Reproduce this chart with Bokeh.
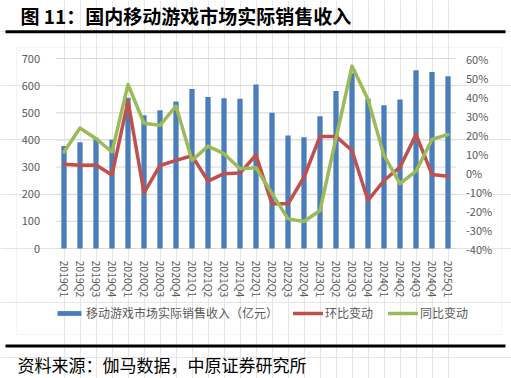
from bokeh.plotting import figure
from bokeh.models import (FactorRange, Range1d, LinearAxis, CategoricalAxis, FixedTicker,
                          PrintfTickFormatter, Legend, LegendItem, Label, BoxAnnotation)
from bokeh.embed import file_html
from bokeh.resources import INLINE

quarters = ["2019Q1", "2019Q2", "2019Q3", "2019Q4", "2020Q1", "2020Q2", "2020Q3", "2020Q4",
            "2021Q1", "2021Q2", "2021Q3", "2021Q4", "2022Q1", "2022Q2", "2022Q3", "2022Q4",
            "2023Q1", "2023Q2", "2023Q3", "2023Q4", "2024Q1", "2024Q2", "2024Q3", "2024Q4", "2025Q1"]
revenue = [378, 391, 408, 401, 555, 491, 509, 542, 588, 558, 554, 552, 604, 500, 416, 410,
           487, 580, 646, 552, 528, 549, 657, 650, 635]
qoq = [4.3, 3.8, 4.0, -1.3, 37.6, -10.7, 3.7, 6.4, 8.8, -4.5, -0.6, -0.3, 9.2, -16.5, -16.5, -2.5,
       19.0, 19.0, 11.6, -14.7, -4.2, 2.8, 20.0, -1.0, -2.0]
yoy = [10.8, 23.4, 17.8, 10.8, 46.3, 25.9, 24.8, 35.0, 6.4, 13.9, 9.9, 2.0, 2.5, -11.0, -24.4, -25.8,
       -20.0, 18.0, 56.0, 38.4, 9.0, -5.9, 0.7, 17.4, 20.0]
left_ticks = [0, 100, 200, 300, 400, 500, 600, 700]
right_ticks = [-40, -30, -20, -10, 0, 10, 20, 30, 40, 50, 60]

title_text = "图 11：国内移动游戏市场实际销售收入"
source_text = "资料来源：伽马数据，中原证券研究所"
label_bar = "移动游戏市场实际销售收入（亿元）"
label_qoq = "环比变动"
label_yoy = "同比变动"

FONT = "Noto Sans CJK SC"
GREY = "#595959"
GRID = "#d9d9d9"

# ---- layout (canvas pixels) ----
W, H = 511, 378
PX_L, PX_R = 55, 455      # plot area left/right
PX_T, PX_B = 58, 248      # plot area top/bottom
n = len(quarters)
unit = (PX_R - PX_L) / n
pad = (W / unit - n) / 2

ymin, ymax = left_ticks[0], left_ticks[-1]
k = (PX_B - PX_T) / (ymax - ymin)
y_lo = ymin - (H - PX_B) / k
y_hi = ymax + PX_T / k
pmin, pmax = right_ticks[0], right_ticks[-1]
kp = (PX_B - PX_T) / (pmax - pmin)
p_lo = pmin - (H - PX_B) / kp
p_hi = pmax + PX_T / kp

p = figure(width=W, height=H,
           x_range=FactorRange(*quarters, range_padding=pad, range_padding_units="absolute"),
           y_range=Range1d(y_lo, y_hi), x_axis_location=None, y_axis_location=None,
           output_backend="svg", toolbar_location=None, min_border=0)
p.outline_line_color = None
p.background_fill_color = "white"
p.border_fill_color = "white"
p.extra_y_ranges = {"pct": Range1d(p_lo, p_hi)}

# gridlines (plot area only)
p.segment(x0=[0] * len(left_ticks), x1=[n] * len(left_ticks), y0=left_ticks, y1=left_ticks,
          line_color=GRID, line_width=1)

bars = p.vbar(x=quarters, top=revenue, width=0.33, fill_color="#4a7ebb", line_color=None)
r_qoq = p.line(x=quarters, y=qoq, y_range_name="pct", line_color="#c0504d", line_width=3.5,
               line_join="round", line_cap="round")
r_yoy = p.line(x=quarters, y=yoy, y_range_name="pct", line_color="#9bbb59", line_width=3.5,
               line_join="round", line_cap="round")

# axes placed at the plot-area edges
xa = CategoricalAxis(fixed_location=0)
xa.major_label_orientation = "vertical"
xa.major_tick_line_color = None
xa.minor_tick_line_color = None
xa.axis_line_color = None
xa.major_label_standoff = 6
xa.major_label_text_font = FONT
xa.major_label_text_font_size = "10.5px"
xa.major_label_text_color = GREY
p.add_layout(xa, "below")

ya = LinearAxis(fixed_location=0, ticker=FixedTicker(ticks=left_ticks))
ya.axis_line_color = None
ya.major_tick_line_color = None
ya.minor_tick_line_color = None
ya.major_label_standoff = 10
ya.major_label_text_font = FONT
ya.major_label_text_font_size = "11px"
ya.major_label_text_color = GREY
p.add_layout(ya, "left")

ra = LinearAxis(y_range_name="pct", fixed_location=n, ticker=FixedTicker(ticks=right_ticks),
                formatter=PrintfTickFormatter(format="%d%%"))
ra.axis_line_color = None
ra.major_tick_line_color = None
ra.minor_tick_line_color = None
ra.major_label_standoff = 4
ra.major_label_text_font = FONT
ra.major_label_text_font_size = "11px"
ra.major_label_text_color = GREY
p.add_layout(ra, "right")

legend = Legend(items=[LegendItem(label=label_bar, renderers=[bars]),
                       LegendItem(label=label_qoq, renderers=[r_qoq]),
                       LegendItem(label=label_yoy, renderers=[r_yoy])],
                orientation="horizontal", location=(54, H - 321), spacing=15, label_standoff=2,
                glyph_width=30, glyph_height=6, label_height=12, padding=0, margin=0,
                border_line_color=None, background_fill_alpha=0,
                label_text_font=FONT, label_text_font_size="12px", label_text_color=GREY)
p.add_layout(legend, "center")


def box(l, r, t, b, **kw):
    return BoxAnnotation(left=l, right=r, top=H - t, bottom=H - b,
                         left_units="screen", right_units="screen", top_units="screen",
                         bottom_units="screen", **kw)


p.add_layout(box(16, 501, 47, 334, fill_alpha=0, line_color=GRID, line_width=1))
p.add_layout(box(5, 505, 29.8, 32.8, fill_color="black", fill_alpha=1, line_color=None))
p.add_layout(box(5, 505, 344, 347, fill_color="black", fill_alpha=1, line_color=None))

title = Label(x=20, y=H - 14.5, x_units="screen", y_units="screen", text=title_text,
              text_font=FONT, text_font_size="19px", text_font_style="bold", text_color="black",
              text_baseline="middle", text_align="left")
source = Label(x=17, y=H - 364, x_units="screen", y_units="screen", text=source_text,
               text_font=FONT, text_font_size="17px", text_color="black",
               text_baseline="middle", text_align="left")
p.add_layout(title)
p.add_layout(source)

open("out.html", "w").write(file_html(p, INLINE))
